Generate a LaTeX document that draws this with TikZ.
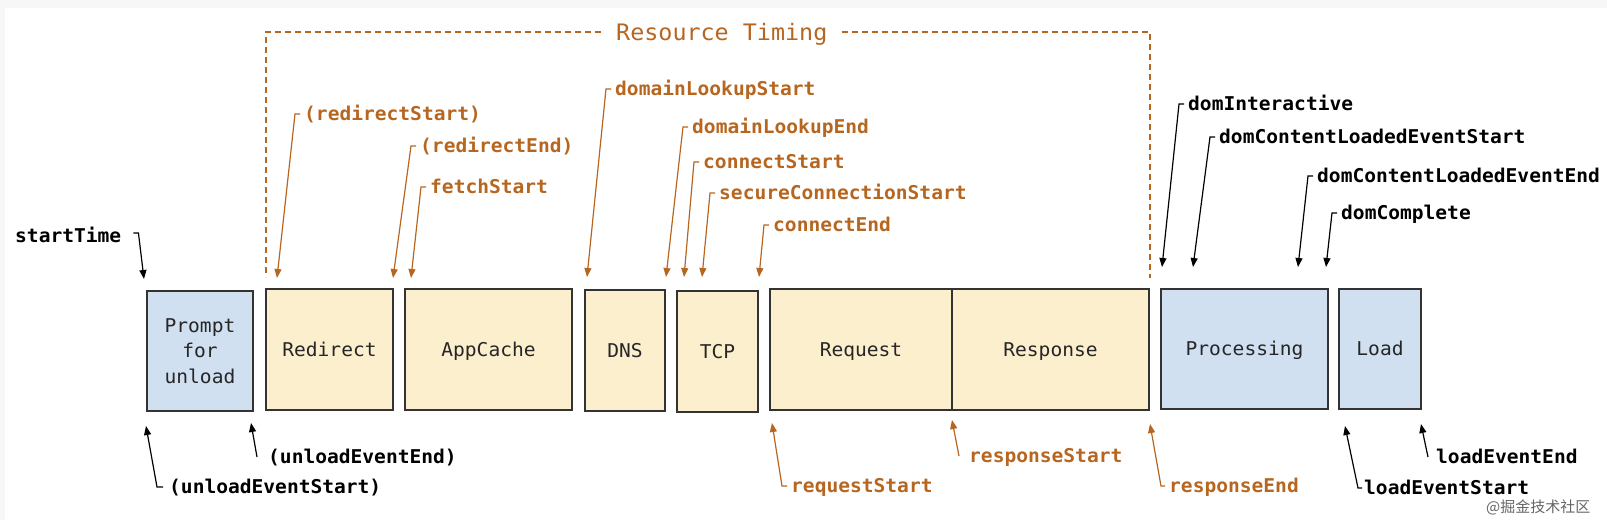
\documentclass[tikz,border=0pt]{standalone}
\usepackage{fontspec}
\usetikzlibrary{arrows.meta}
\newfontfamily\labelfont[FakeStretch=1.03]{DejaVu Sans Mono}
\newfontfamily\cjkfont{Noto Sans CJK SC}
\definecolor{bgray}{RGB}{247,247,247}
\definecolor{boxblue}{RGB}{208,224,241}
\definecolor{boxyellow}{RGB}{252,239,205}
\definecolor{rtorange}{RGB}{183,102,32}
\definecolor{edgegray}{RGB}{51,51,51}
\begin{document}
\begin{tikzpicture}[x=1pt,y=-1pt,
  phase/.style={draw=edgegray,line width=1.5pt,inner sep=0pt,
    font=\labelfont\fontsize{19}{25.6}\selectfont,text=black!85,align=center},
  bluebox/.style={phase,fill=boxblue},
  yelbox/.style={phase,fill=boxyellow},
  oneline/.style={text height=13.9pt,text depth=0pt},
  lbl/.style={inner sep=0pt,anchor=west,font=\labelfont\bfseries\fontsize{19}{23}\selectfont,
    text height=13.9pt,text depth=0pt},
  olbl/.style={lbl,text=rtorange},
  klbl/.style={lbl,text=black},
  oarr/.style={draw=rtorange,line width=1.2pt,-{Triangle[length=9pt,width=7pt]}},
  karr/.style={draw=black,line width=1.2pt,-{Triangle[length=9pt,width=7pt]}},
  rtline/.style={draw=rtorange,line width=1.2pt,dash pattern=on 6pt off 4pt}
]
\useasboundingbox (0,0) rectangle (1607,520);
\fill[bgray] (0,0) rectangle (1607,520);
\fill[white] (5,8) rectangle (1607,520);

% phase boxes
\node[bluebox,minimum width=106pt,minimum height=120pt] (prompt) at (200,351) {Prompt\\for\\unload};
\node[yelbox,oneline,minimum width=127pt,minimum height=121pt] (redirect) at (329.5,349.5) {Redirect};
\node[yelbox,oneline,minimum width=167pt,minimum height=121pt] (appcache) at (488.5,349.5) {AppCache};
\node[yelbox,oneline,minimum width=80pt,minimum height=121pt] (dns) at (625,350.5) {DNS};
\node[yelbox,oneline,minimum width=81pt,minimum height=121pt] (tcp) at (717.5,351.5) {TCP};
\node[yelbox,oneline,minimum width=182pt,minimum height=121pt] (request) at (861,349.5) {Request};
\node[yelbox,oneline,minimum width=197pt,minimum height=121pt] (response) at (1050.5,349.5) {Response};
\node[bluebox,oneline,minimum width=167pt,minimum height=120pt] (processing) at (1244.5,349) {Processing};
\node[bluebox,oneline,minimum width=82pt,minimum height=120pt] (load) at (1380,349) {Load};

% Resource Timing bracket
\node[inner sep=0pt,anchor=west,font=\labelfont\fontsize{22.7}{26}\selectfont,text=rtorange,
  text height=16.6pt,text depth=0pt] (rt) at (616,32) {Resource Timing};
\coordinate (rtL) at (266,277);
\coordinate (rtR) at (1150,278);
\draw[rtline] ([xshift=-15pt]rt.west) -| (rtL);
\draw[rtline] ([xshift=14pt]rt.east) -| (rtR);

% tips
\coordinate (tStart) at (144,279);
\coordinate (tRedS) at (277,278);
\coordinate (tRedE) at (393,278);
\coordinate (tFetch) at (411,278);
\coordinate (tDLS) at (587,277);
\coordinate (tDLE) at (666,277);
\coordinate (tCS) at (684,277);
\coordinate (tSCS) at (702,277);
\coordinate (tCE) at (759,277);
\coordinate (tDI) at (1162,267);
\coordinate (tDCS) at (1193,267);
\coordinate (tDCE) at (1298,267);
\coordinate (tDC) at (1326,267);
\coordinate (tUS) at (146,426);
\coordinate (tUE) at (251,423);
\coordinate (tReqS) at (772,423);
\coordinate (tResS) at (952,420);
\coordinate (tResE) at (1150,424);
\coordinate (tLS) at (1345,426);
\coordinate (tLE) at (1421,424);

% top orange labels
\node[olbl] (redS) at (304,114) {(redirectStart)};
\node[olbl] (redE) at (420,146) {(redirectEnd)};
\node[olbl] (fetch) at (430,187) {fetchStart};
\node[olbl] (dls) at (615,89) {domainLookupStart};
\node[olbl] (dle) at (692,127) {domainLookupEnd};
\node[olbl] (cs) at (703,162) {connectStart};
\node[olbl] (scs) at (719,193) {secureConnectionStart};
\node[olbl] (ce) at (773,225) {connectEnd};
\foreach \n/\t in {redS/tRedS,redE/tRedE,fetch/tFetch,dls/tDLS,dle/tDLE,cs/tCS,scs/tSCS,ce/tCE}
  \draw[oarr] ([xshift=-4pt]\n.west) -- ([xshift=-9pt]\n.west) -- (\t);

% top black labels
\node[klbl] (st) at (15,236) {startTime};
\draw[karr] ([xshift=12pt,yshift=3pt]st.east) -- ([xshift=17pt,yshift=3pt]st.east) -- (tStart);
\node[klbl] (di) at (1188,104) {domInteractive};
\node[klbl] (dcs) at (1219,137) {domContentLoadedEventStart};
\node[klbl] (dce) at (1317,176) {domContentLoadedEventEnd};
\node[klbl] (dc) at (1341,213) {domComplete};
\foreach \n/\t in {di/tDI,dcs/tDCS,dce/tDCE,dc/tDC}
  \draw[karr] ([xshift=-4pt]\n.west) -- ([xshift=-9pt]\n.west) -- (\t);

% bottom labels
\node[klbl] (us) at (169,487) {(unloadEventStart)};
\node[klbl] (ue) at (268,457) {(unloadEventEnd)};
\node[olbl] (reqs) at (791,486) {requestStart};
\node[olbl] (ress) at (969,456) {responseStart};
\node[olbl] (rese) at (1169,486) {responseEnd};
\node[klbl] (ls) at (1364,488) {loadEventStart};
\node[klbl] (le) at (1436,457) {loadEventEnd};
\draw[karr] ([xshift=-6pt]us.west) -- ([xshift=-12pt]us.west) -- (tUS);
\draw[karr] ([xshift=-11pt]ue.west) -- (tUE);
\draw[oarr] ([xshift=-4pt]reqs.west) -- ([xshift=-9pt]reqs.west) -- (tReqS);
\draw[oarr] ([xshift=-10pt]ress.west) -- (tResS);
\draw[oarr] ([xshift=-4pt]rese.west) -- ([xshift=-8pt]rese.west) -- (tResE);
\draw[karr] ([xshift=-2pt]ls.west) -- ([xshift=-6pt]ls.west) -- (tLS);
\draw[karr] ([xshift=-8pt]le.west) -- (tLE);

% watermark
\node[inner sep=0pt,anchor=west,font=\cjkfont\fontsize{15}{15}\selectfont,text=black!60] (wm) at (1486,507) {@掘金技术社区};
\end{tikzpicture}
\end{document}
